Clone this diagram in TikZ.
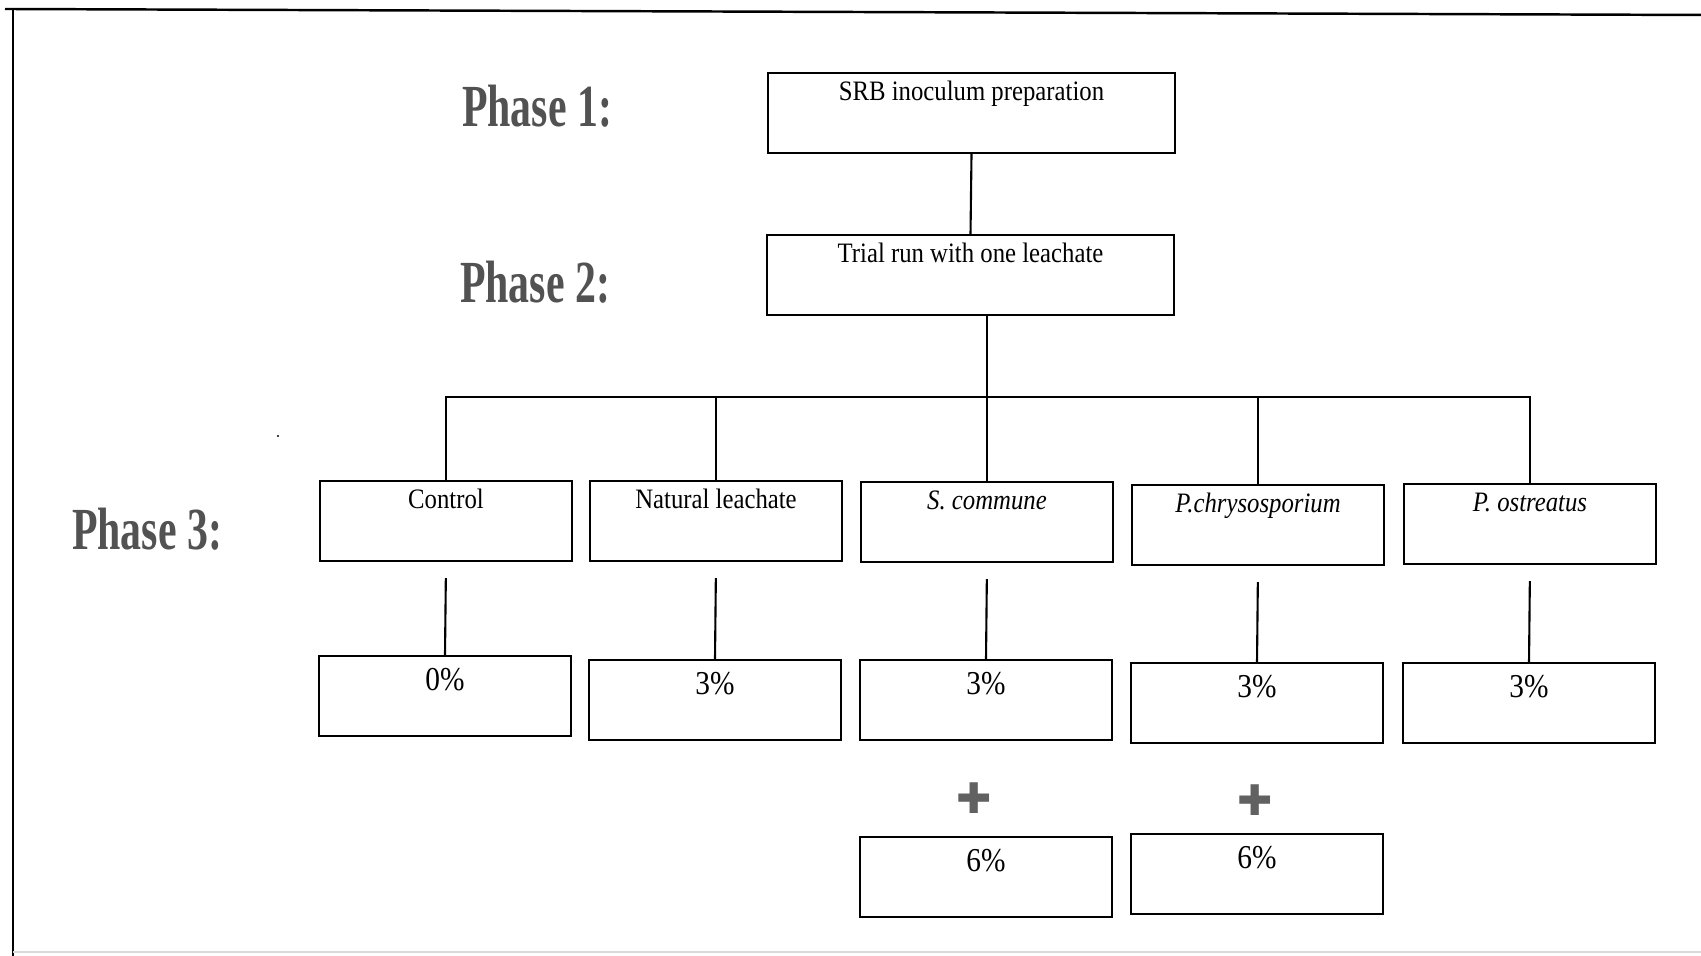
\documentclass[tikz,border=0pt]{standalone}
\usepackage{fontspec}
\setmainfont{Liberation Serif}[FakeStretch=0.88]
\newfontfamily\phasefont{Liberation Serif}[FakeStretch=0.7]
\newfontfamily\symfont{DejaVu Sans}
\usetikzlibrary{positioning}

\begin{document}
\begin{tikzpicture}[
    box/.style={draw, line width=0.6pt, minimum width=2.52cm, inner xsep=2pt, inner ysep=0pt,
                text height=2.8mm, text depth=5.2mm, font=\fontsize{8}{9}\selectfont}, % text sits near the top
    pct/.style={box, text height=3.5mm, text depth=4.5mm, font=\fontsize{9.5}{11}\selectfont},
    wide/.style={minimum width=4.07cm},
    phase/.style={font=\phasefont\bfseries\fontsize{17}{20}\selectfont, text=black!68},
    plus/.style={font=\symfont\fontsize{12}{12}\selectfont, text=black!62},
    link/.style={line width=0.6pt}
    ]
\useasboundingbox (0,0) rectangle (17.01,9.56);
% frame of the scan
\draw[line width=0.7pt] (0.05,9.47) -- (17.01,9.41);
\draw[line width=0.7pt] (0.13,9.47) -- (0.13,0);
\draw[black!15] (0.13,0.04) -- (17.01,0.04);
\fill (2.78,5.20) circle (0.012);

\node[phase] (ph1) at (5.37,8.50) {Phase 1:};
\node[phase] (ph2) at (5.35,6.74) {Phase 2:};
\node[phase] (ph3) at (1.47,4.27) {Phase 3:};

\node[box,wide] (srb) at (9.715,8.43) {SRB inoculum preparation};
\node[box,wide] (trial) at (9.705,6.81) {Trial run with one leachate};

\node[box] (ctrl) at (4.46,4.35) {Control};
\node[box] (nat) at (7.16,4.35) {Natural leachate};
\node[box] (sc) at (9.87,4.34) {\textit{S. commune}};
\node[box] (pc) at (12.58,4.31) {\textit{P.chrysosporium}};
\node[box] (po) at (15.30,4.32) {\textit{P. ostreatus}};

\node[pct] (ctrl0) at (4.45,2.60) {0\%};
\node[pct] (nat3) at (7.15,2.56) {3\%};
\node[pct] (sc3) at (9.86,2.56) {3\%};
\node[pct] (pc3) at (12.57,2.53) {3\%};
\node[pct] (po3) at (15.29,2.53) {3\%};

\node[plus] (scplus) at (9.74,1.58) {✚};
\node[plus] (pcplus) at (12.55,1.56) {✚};
\node[pct] (sc6) at (9.86,0.79) {6\%};
\node[pct] (pc6) at (12.57,0.82) {6\%};

\coordinate (bus) at (9.87,5.59);
\draw[link] (srb.south) -- (trial.north);
\draw[link] (trial.south -| sc.north) -- (sc.north);
\draw[link] (ctrl.north) |- (bus) -| (po.north);
\draw[link] (nat.north) -- (nat.north |- bus);
\draw[link] (pc.north) -- (pc.north |- bus);

\draw[link, shorten <=1.6mm] (ctrl.south) -- (ctrl0.north);
\draw[link, shorten <=1.6mm] (nat.south) -- (nat3.north);
\draw[link, shorten <=1.6mm] (sc.south) -- (sc3.north);
\draw[link, shorten <=1.6mm] (pc.south) -- (pc3.north);
\draw[link, shorten <=1.6mm] (po.south) -- (po3.north);
\end{tikzpicture}
\end{document}
